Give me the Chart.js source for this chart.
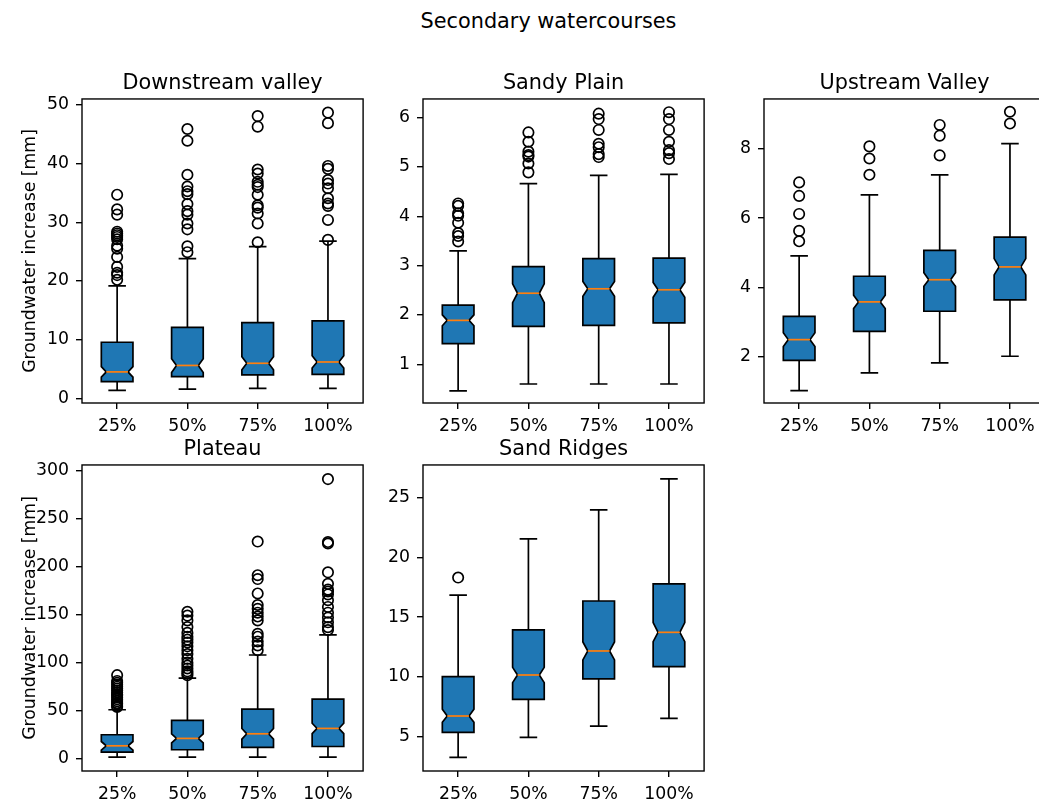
<!DOCTYPE html>
<html>
<head>
<meta charset="utf-8">
<script src="https://cdn.jsdelivr.net/npm/chart.js@4.4.1/dist/chart.umd.min.js"></script>
<style>
html,body{margin:0;padding:0;background:#fff;width:1039px;height:804px;overflow:hidden;}
body{position:relative;font-family:'DejaVu Sans',sans-serif;}
canvas{position:absolute;}
#suptitle{position:absolute;left:0;width:1097px;top:11px;text-align:center;font-size:20.8px;line-height:20.8px;color:#000;white-space:nowrap;}
</style>
</head>
<body>
<div id="suptitle">Secondary watercourses</div>
<canvas id="p1"></canvas>
<canvas id="p2"></canvas>
<canvas id="p3"></canvas>
<canvas id="p4"></canvas>
<canvas id="p5"></canvas>
<script>
// ---------------- DATA ----------------
const categories = ['25%', '50%', '75%', '100%'];
const yAxisLabel = 'Groundwater increase [mm]';

// Downstream valley
const dvWhiskerLow  = [1.35, 1.55, 1.7, 1.7];
const dvQ1          = [2.85, 3.7, 3.98, 4.09];
const dvMedian      = [4.5, 5.6, 5.97, 6.19];
const dvNotchLow    = [3.6, 4.4, 4.85, 5.15];
const dvNotchHigh   = [5.4, 6.75, 7.1, 7.25];
const dvQ3          = [9.55, 12.1, 12.9, 13.2];
const dvWhiskerHigh = [19.15, 23.8, 25.85, 26.8];
const dvOutliers25  = [34.7, 32.2, 31.3, 28.4, 28.1, 27.8, 27.5, 27.1, 26.0, 25.5, 24.1, 22.4, 21.4, 21.0, 20.2];
const dvOutliers50  = [45.9, 43.9, 38.1, 36.1, 35.3, 34.8, 33.1, 31.9, 31.3, 29.8, 28.8, 25.9, 24.9];
const dvOutliers75  = [48.1, 46.3, 39.0, 38.3, 36.9, 36.4, 36.0, 34.7, 32.9, 32.5, 31.5, 29.8, 26.6];
const dvOutliers100 = [48.7, 46.9, 39.6, 39.1, 37.2, 36.6, 35.8, 34.1, 33.2, 32.8, 30.4, 27.0];
const dvTicks = [0, 10, 20, 30, 40, 50];

// Sandy Plain
const spWhiskerLow  = [0.46, 0.6, 0.6, 0.6];
const spQ1          = [1.42, 1.77, 1.79, 1.84];
const spMedian      = [1.89, 2.44, 2.53, 2.51];
const spNotchLow    = [1.78, 2.25, 2.38, 2.36];
const spNotchHigh   = [2.0, 2.63, 2.68, 2.66];
const spQ3          = [2.2, 2.98, 3.14, 3.15];
const spWhiskerHigh = [3.3, 4.66, 4.83, 4.85];
const spOutliers25  = [4.26, 4.21, 4.06, 4.01, 3.87, 3.66, 3.60, 3.49];
const spOutliers50  = [5.70, 5.51, 5.31, 5.24, 5.21, 5.07, 4.89];
const spOutliers75  = [6.08, 5.97, 5.75, 5.47, 5.40, 5.26, 5.20];
const spOutliers100 = [6.11, 5.97, 5.75, 5.51, 5.34, 5.28, 5.16];
const spTicks = [1, 2, 3, 4, 5, 6];

// Upstream Valley
const uvWhiskerLow  = [1.02, 1.53, 1.82, 2.01];
const uvQ1          = [1.89, 2.73, 3.31, 3.64];
const uvMedian      = [2.49, 3.58, 4.22, 4.59];
const uvNotchLow    = [2.29, 3.39, 4.03, 4.36];
const uvNotchHigh   = [2.69, 3.77, 4.42, 4.83];
const uvQ3          = [3.16, 4.32, 5.07, 5.45];
const uvWhiskerHigh = [4.91, 6.67, 7.25, 8.15];
const uvOutliers25  = [7.03, 6.64, 6.12, 5.63, 5.33];
const uvOutliers50  = [8.07, 7.72, 7.25];
const uvOutliers75  = [8.69, 8.38, 7.81];
const uvOutliers100 = [9.07, 8.73];
const uvTicks = [2, 4, 6, 8];

// Plateau
const plWhiskerLow  = [1.7, 1.7, 1.7, 1.7];
const plQ1          = [6.9, 9.4, 11.8, 12.8];
const plMedian      = [13.5, 21.2, 26.0, 31.6];
const plNotchLow    = [9.0, 16.5, 20.5, 26.2];
const plNotchHigh   = [18.0, 25.9, 31.5, 37.0];
const plQ3          = [25.0, 39.9, 51.7, 62.1];
const plWhiskerHigh = [51.0, 84.0, 108.0, 129.0];
const plOutliers25  = [87, 81, 79, 77, 75, 73, 71, 69, 67, 66, 64, 62, 60, 58, 57, 55, 54];
const plOutliers50  = [153, 149, 144, 137, 131, 127, 124, 121, 117, 113, 109, 104, 100, 97, 94, 91, 89, 87];
const plOutliers75  = [226, 191, 187, 172, 160, 156, 152, 148, 144, 130, 127, 122, 118, 113];
const plOutliers100 = [291, 225.5, 224, 194, 182, 176, 174, 171, 165, 158, 152, 147, 142, 137, 134];
const plTicks = [0, 50, 100, 150, 200, 250, 300];

// Sand Ridges
const srWhiskerLow  = [3.27, 4.94, 5.89, 6.53];
const srQ1          = [5.36, 8.12, 9.83, 10.86];
const srMedian      = [6.73, 10.16, 12.17, 13.73];
const srNotchLow    = [6.2, 9.52, 11.42, 12.95];
const srNotchHigh   = [7.29, 10.8, 12.92, 14.54];
const srQ3          = [10.02, 13.93, 16.35, 17.78];
const srWhiskerHigh = [16.85, 21.54, 23.97, 26.56];
const srOutliers25  = [18.31];
const srOutliers50  = [];
const srOutliers75  = [];
const srOutliers100 = [];
const srTicks = [5, 10, 15, 20, 25];

// ---------------- STYLE / GEOMETRY ----------------
const BOX_HALF = 0.225, NOTCH_HALF = 0.155, CAP_HALF = 0.125;
const BOX_FILL = '#1f77b4', MEDIAN_COLOR = '#ff7f0e', EDGE = '#000000';
const LINE_W = 1.7, SPINE_W = 1.39;
const TICK_FS = 17.3, TITLE_FS = 20.8;
const Y_W = 80, TITLE_H = 28, X_H = 40, PAD_R = 3, AX_W = 285;
const FONT = 'DejaVu Sans';
Chart.defaults.font.family = FONT;

function makeBoxPlugin(st) {
  return {
    id: 'notchedBoxes',
    beforeDatasetsDraw(chart) {
      const ctx = chart.ctx, xs = chart.scales.x, ys = chart.scales.y;
      ctx.save();
      for (let i = 0; i < st.q1.length; i++) {
        const pos = i + 1;
        const X = v => xs.getPixelForValue(v);
        const Y = v => ys.getPixelForValue(v);
        const bl = X(pos - BOX_HALF), br = X(pos + BOX_HALF);
        const nl = X(pos - NOTCH_HALF), nr = X(pos + NOTCH_HALF);
        const cl = X(pos - CAP_HALF), cr = X(pos + CAP_HALF);
        const xc = X(pos);
        ctx.lineWidth = LINE_W; ctx.strokeStyle = EDGE; ctx.lineCap = 'butt'; ctx.lineJoin = 'miter';
        // whiskers + caps
        ctx.beginPath();
        ctx.moveTo(xc, Y(st.q1[i])); ctx.lineTo(xc, Y(st.wlo[i]));
        ctx.moveTo(xc, Y(st.q3[i])); ctx.lineTo(xc, Y(st.whi[i]));
        ctx.moveTo(cl, Y(st.wlo[i])); ctx.lineTo(cr, Y(st.wlo[i]));
        ctx.moveTo(cl, Y(st.whi[i])); ctx.lineTo(cr, Y(st.whi[i]));
        ctx.stroke();
        // notched box
        ctx.beginPath();
        ctx.moveTo(bl, Y(st.q1[i]));
        ctx.lineTo(br, Y(st.q1[i]));
        ctx.lineTo(br, Y(st.nlo[i]));
        ctx.lineTo(nr, Y(st.med[i]));
        ctx.lineTo(br, Y(st.nhi[i]));
        ctx.lineTo(br, Y(st.q3[i]));
        ctx.lineTo(bl, Y(st.q3[i]));
        ctx.lineTo(bl, Y(st.nhi[i]));
        ctx.lineTo(nl, Y(st.med[i]));
        ctx.lineTo(bl, Y(st.nlo[i]));
        ctx.closePath();
        ctx.fillStyle = BOX_FILL; ctx.fill();
        ctx.stroke();
        // median
        ctx.beginPath();
        ctx.strokeStyle = MEDIAN_COLOR;
        ctx.moveTo(nl, Y(st.med[i])); ctx.lineTo(nr, Y(st.med[i]));
        ctx.stroke();
      }
      ctx.restore();
    },
    afterDatasetsDraw(chart) {
      const ctx = chart.ctx, a = chart.chartArea;
      ctx.save();
      ctx.strokeStyle = EDGE; ctx.lineWidth = SPINE_W;
      ctx.strokeRect(a.left, a.top, a.right - a.left, a.bottom - a.top);
      ctx.restore();
    }
  };
}

function makePanel(id, p) {
  const canvas = document.getElementById(id);
  canvas.width = Y_W + AX_W + PAD_R;
  canvas.height = TITLE_H + p.h + X_H;
  canvas.style.left = (p.left - Y_W) + 'px';
  canvas.style.top = (p.top - TITLE_H) + 'px';
  const pts = [];
  p.outliers.forEach((arr, i) => arr.forEach(v => pts.push({x: i + 1, y: v})));
  const gridOpt = {display: true, drawOnChartArea: false, drawTicks: true, tickLength: 6, color: EDGE, lineWidth: SPINE_W};
  const tickFont = {size: TICK_FS, family: FONT};
  new Chart(canvas, {
    type: 'scatter',
    data: {datasets: [{
      data: pts, pointStyle: 'circle', pointRadius: 5.2, pointHoverRadius: 5.2,
      pointBorderWidth: LINE_W, pointBorderColor: EDGE, pointBackgroundColor: 'rgba(0,0,0,0)',
      showLine: false, clip: false
    }]},
    options: {
      responsive: false, animation: false, devicePixelRatio: 1, events: [],
      layout: {padding: {left: 0, right: PAD_R, top: 0, bottom: 0}},
      plugins: {
        legend: {display: false}, tooltip: {enabled: false},
        title: {display: true, text: p.title, fullSize: false, color: '#000',
                font: {size: TITLE_FS, weight: 'normal', family: FONT, lineHeight: 1.2},
                padding: {top: 0, bottom: 3}}
      },
      scales: {
        x: {
          type: 'linear', min: 0.5, max: 4.5, bounds: 'data',
          afterBuildTicks: s => { s.ticks = categories.map((c, i) => ({value: i + 1})); },
          afterFit: s => { s.height = X_H; },
          ticks: {callback: v => categories[Math.round(v) - 1], color: '#000', font: tickFont, padding: 7, maxRotation: 0, autoSkip: false},
          grid: gridOpt, border: {display: false}
        },
        y: {
          type: 'linear', min: p.yMin, max: p.yMax, bounds: 'data',
          afterBuildTicks: s => { s.ticks = p.yTicks.map(v => ({value: v})); },
          afterFit: s => { s.width = Y_W; },
          ticks: {callback: v => String(v), color: '#000', font: tickFont, padding: 7, autoSkip: false},
          grid: gridOpt, border: {display: false},
          title: {display: !!p.yLabel, text: p.yLabel || '', color: '#000', font: {size: TICK_FS, family: FONT, lineHeight: 1.2}, padding: {top: 18.5, bottom: 0}}
        }
      }
    },
    plugins: [makeBoxPlugin(p.stats)]
  });
}

makePanel('p1', {
  title: 'Downstream valley', left: 82, top: 99, h: 304, yMin: -0.8, yMax: 51.02, yTicks: dvTicks, yLabel: yAxisLabel,
  stats: {wlo: dvWhiskerLow, q1: dvQ1, med: dvMedian, nlo: dvNotchLow, nhi: dvNotchHigh, q3: dvQ3, whi: dvWhiskerHigh},
  outliers: [dvOutliers25, dvOutliers50, dvOutliers75, dvOutliers100]
});
makePanel('p2', {
  title: 'Sandy Plain', left: 423, top: 99, h: 304, yMin: 0.215, yMax: 6.378, yTicks: spTicks, yLabel: '',
  stats: {wlo: spWhiskerLow, q1: spQ1, med: spMedian, nlo: spNotchLow, nhi: spNotchHigh, q3: spQ3, whi: spWhiskerHigh},
  outliers: [spOutliers25, spOutliers50, spOutliers75, spOutliers100]
});
makePanel('p3', {
  title: 'Upstream Valley', left: 764, top: 99, h: 304, yMin: 0.66, yMax: 9.44, yTicks: uvTicks, yLabel: '',
  stats: {wlo: uvWhiskerLow, q1: uvQ1, med: uvMedian, nlo: uvNotchLow, nhi: uvNotchHigh, q3: uvQ3, whi: uvWhiskerHigh},
  outliers: [uvOutliers25, uvOutliers50, uvOutliers75, uvOutliers100]
});
makePanel('p4', {
  title: 'Plateau', left: 82, top: 465, h: 306, yMin: -12.7, yMax: 305.7, yTicks: plTicks, yLabel: yAxisLabel,
  stats: {wlo: plWhiskerLow, q1: plQ1, med: plMedian, nlo: plNotchLow, nhi: plNotchHigh, q3: plQ3, whi: plWhiskerHigh},
  outliers: [plOutliers25, plOutliers50, plOutliers75, plOutliers100]
});
makePanel('p5', {
  title: 'Sand Ridges', left: 423, top: 465, h: 306, yMin: 2.13, yMax: 27.73, yTicks: srTicks, yLabel: '',
  stats: {wlo: srWhiskerLow, q1: srQ1, med: srMedian, nlo: srNotchLow, nhi: srNotchHigh, q3: srQ3, whi: srWhiskerHigh},
  outliers: [srOutliers25, srOutliers50, srOutliers75, srOutliers100]
});
</script>
</body>
</html>
